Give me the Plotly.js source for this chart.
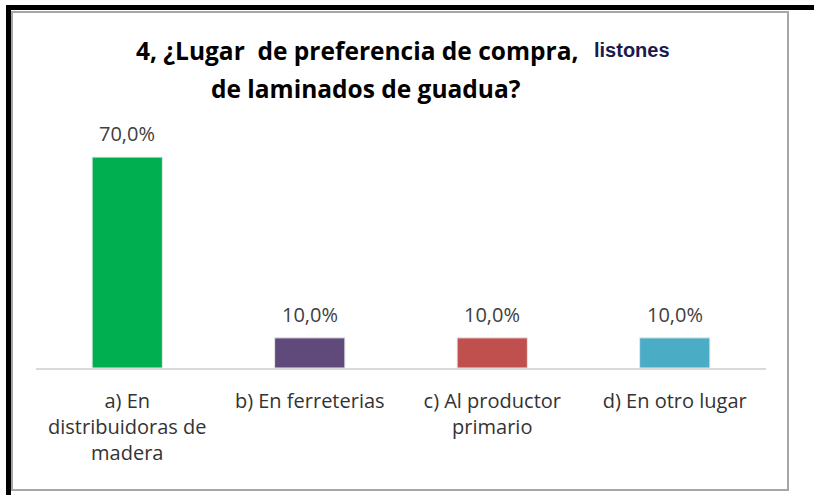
<!DOCTYPE html>
<html>
<head>
<meta charset="utf-8">
<script src="https://cdn.plot.ly/plotly-3.0.1.min.js"></script>
<style>html,body{margin:0;padding:0;background:#fff;}#chart{width:814px;height:495px;}</style>
</head>
<body>
<div id="chart"></div>
<script>
var categories = ["a) En<br>distribuidoras de<br>madera", "b) En ferreterias", "c) Al productor<br>primario", "d) En otro lugar"];
var values = [0.70, 0.10, 0.10, 0.10];
var valueLabels = ["70,0%", "10,0%", "10,0%", "10,0%"];
var barColors = ["#00B050", "#604A7B", "#C0504D", "#4BACC6"];
var titleMain = "4, ¿Lugar  de preferencia de compra,";
var titleExtra = "listones";
var titleLine2 = "de laminados de guadua?";

var W = 814, H = 495;
var L = 36, R = 48, T = 130, B = 127;
var pw = W - L - R, ph = H - T - B;
function px(x){ return (x - L) / pw; }
function py(y){ return (H - B - y) / ph; }

var FONT = "Open Sans, sans-serif";

var annotations = categories.map(function(c, i){
  return {x: c, y: values[i], xref: "x", yref: "y", text: valueLabels[i], showarrow: false,
    yanchor: "bottom", yshift: 8, font: {family: FONT, size: 20, color: "#404040"}};
});
annotations.push({x: px(134), y: py(50), xref: "paper", yref: "paper", xanchor: "left", yanchor: "middle",
  text: "<b>" + titleMain + "</b>", showarrow: false, font: {family: FONT, size: 24.5, color: "#000"}});
annotations.push({x: px(592), y: py(50), xref: "paper", yref: "paper", xanchor: "left", yanchor: "middle",
  text: "<b>" + titleExtra + "</b>", showarrow: false, font: {family: "Liberation Sans, Arial, sans-serif", size: 20, color: "#1a1a4e"}});
annotations.push({x: px(209), y: py(88), xref: "paper", yref: "paper", xanchor: "left", yanchor: "middle",
  text: "<b>" + titleLine2 + "</b>", showarrow: false, font: {family: FONT, size: 24.5, color: "#000"}});

var shapes = [
  {type: "rect", xref: "paper", yref: "paper", x0: px(12), x1: px(788), y0: py(12), y1: py(490),
   line: {color: "#A6A6A6", width: 2}, fillcolor: "rgba(0,0,0,0)", layer: "below"},
  {type: "rect", xref: "paper", yref: "paper", x0: px(6), x1: px(11), y0: py(5), y1: py(495),
   line: {width: 0}, fillcolor: "#000"},
  {type: "rect", xref: "paper", yref: "paper", x0: px(6), x1: px(814), y0: py(5), y1: py(10),
   line: {width: 0}, fillcolor: "#000"}
];

var trace = {
  type: "bar", x: categories, y: values,
  marker: {color: barColors, line: {color: "#E8E8E8", width: 1}},
  width: 0.385, hoverinfo: "none", cliponaxis: false
};

var layout = {
  width: W, height: H,
  margin: {l: L, r: R, t: T, b: B, pad: 0},
  paper_bgcolor: "#fff", plot_bgcolor: "#fff",
  showlegend: false,
  xaxis: {type: "category", showline: true, linecolor: "#D9D9D9", linewidth: 2,
    ticks: "outside", ticklen: 14, tickcolor: "rgba(0,0,0,0)", showgrid: false, zeroline: false, automargin: false,
    tickfont: {family: FONT, size: 20, color: "#333333"}},
  yaxis: {range: [0, 0.79], visible: false, showgrid: false, zeroline: false, fixedrange: true},
  annotations: annotations,
  shapes: shapes
};

Plotly.newPlot("chart", [trace], layout, {displayModeBar: false, staticPlot: true});
</script>
</body>
</html>
